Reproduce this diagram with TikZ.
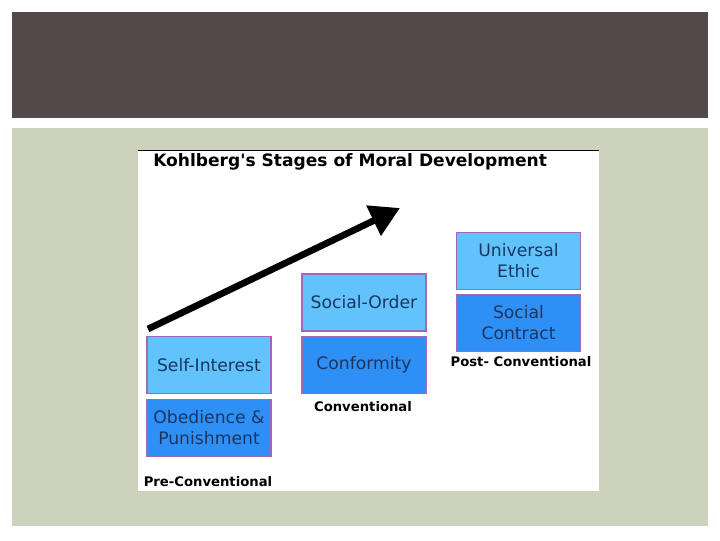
\documentclass[tikz,border=0pt]{standalone}
\usepackage{fontspec}
\setmainfont{DejaVu Sans}
\newfontfamily\plainfont{DejaVu Sans}
\usetikzlibrary{arrows.meta}
\definecolor{band}{HTML}{524A48}
\definecolor{panel}{HTML}{CCD2BC}
\definecolor{lightbox}{HTML}{62C3FC}
\definecolor{darkbox}{HTML}{2E90F4}
\definecolor{boxedge}{HTML}{A068B8}
\definecolor{boxtext}{HTML}{1C3560}
\tikzset{
  stagebox/.style={draw=boxedge, line width=1.2pt, minimum width=93pt, minimum height=43pt, inner sep=0pt, align=center, text=boxtext, font=\fontsize{12.9}{15.8}\selectfont},
  lightstage/.style={stagebox, fill=lightbox},
  darkstage/.style={stagebox, fill=darkbox},
  levellabel/.style={font=\bfseries\fontsize{9.9}{11}\selectfont, text=black, inner sep=0pt},
}
\begin{document}
\begin{tikzpicture}[x=0.75pt,y=-0.75pt]
\useasboundingbox (0,0) rectangle (720,540);
\fill[white] (0,0) rectangle (720,540);
\fill[band] (12,12) rectangle (708,118);
\fill[panel] (12,128) rectangle (708,526);
\fill[white] (138,150) rectangle (599,491);
\draw[black, line width=1.2pt] (138,150.5) -- (599,150.5);
\node[anchor=west, font=\plainfont\bfseries\fontsize{12.8}{14}\selectfont, inner sep=0pt] (title) at (153,162) {Kohlberg's Stages of Moral Development};
\node[lightstage] (self) at (209,365) {Self-Interest};
\node[darkstage] (obed) at (209,428) {Obedience \&\\Punishment};
\node[lightstage] (order) at (364,302.5) {Social-Order};
\node[darkstage] (conf) at (364,365) {Conformity};
\node[lightstage] (univ) at (518.5,261) {Universal\\Ethic};
\node[darkstage] (contract) at (518.5,323) {Social\\Contract};
\node[levellabel] (pre) at (208,482) {Pre-Conventional};
\node[levellabel] (conv) at (363,407) {Conventional};
\node[levellabel] (post) at (521,362) {Post- Conventional};
\coordinate (astart) at (148,329);
\coordinate (aend) at (400,208);
\draw[line width=5pt, -{Triangle[length=22pt,width=24pt]}] (astart) -- (aend);
\end{tikzpicture}
\end{document}
